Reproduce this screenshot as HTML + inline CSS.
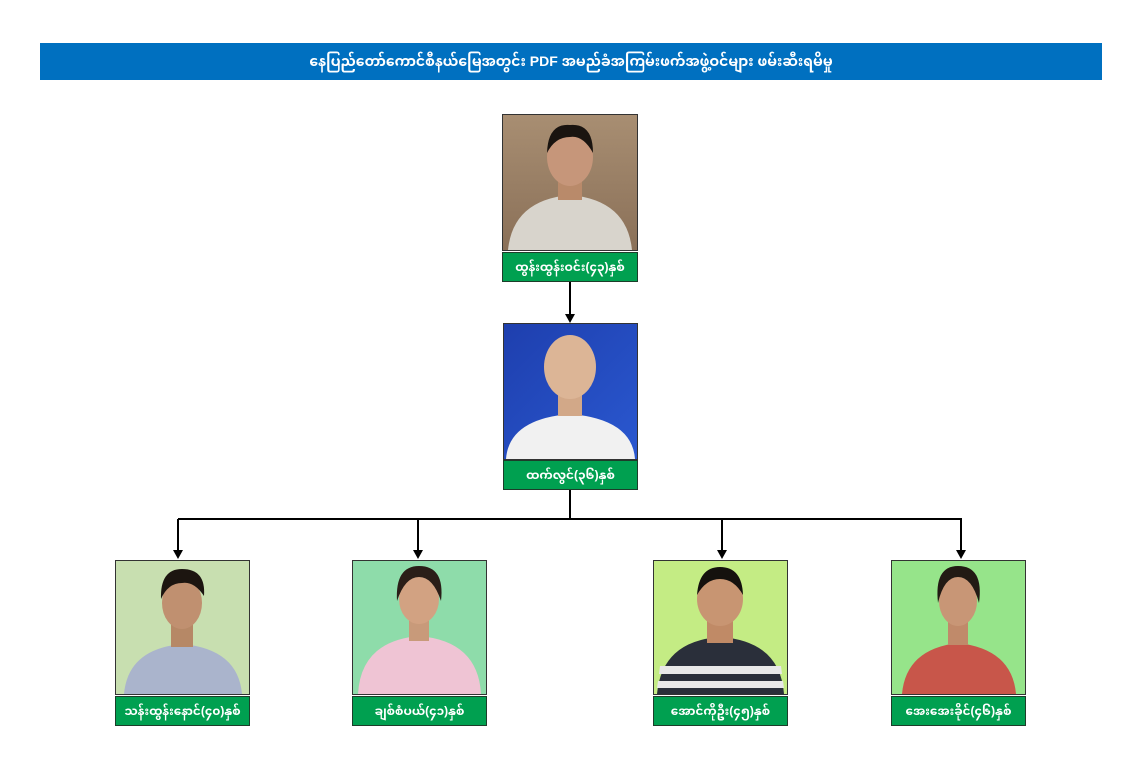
<!DOCTYPE html>
<html><head><meta charset="utf-8"><style>
body{margin:0;width:1131px;height:782px;background:#fff;position:relative;overflow:hidden;font-family:"Liberation Sans","Noto Sans Myanmar","Padauk",sans-serif}
.title{position:absolute;left:40px;top:43px;width:1062px;height:37px;background:#0070c0;color:#fff;font-weight:bold;font-size:14px;line-height:37px;text-align:center}
.ph{position:absolute;border:1px solid #333;overflow:hidden}
.lb{position:absolute;background:#00a050;border:1px solid #1d3d2a;color:#fff;font-weight:bold;font-size:12px;text-align:center;line-height:28px;height:28px}
svg.c{position:absolute;left:0;top:0}
</style></head><body>
<div class="title">နေပြည်တော်ကောင်စီနယ်မြေအတွင်း PDF အမည်ခံအကြမ်းဖက်အဖွဲ့ဝင်များ ဖမ်းဆီးရမိမှု</div>
<svg class="c" width="1131" height="782">
<g stroke="#000" stroke-width="2" fill="none">
<line x1="570" y1="281" x2="570" y2="315"/>
<line x1="570" y1="488" x2="570" y2="519"/>
<line x1="178" y1="519" x2="962" y2="519"/>
<line x1="178" y1="519" x2="178" y2="552"/>
<line x1="418" y1="519" x2="418" y2="552"/>
<line x1="722" y1="519" x2="722" y2="552"/>
<line x1="961" y1="519" x2="961" y2="552"/>
</g>
<g fill="#000">
<polygon points="565,314 575,314 570,323"/>
<polygon points="173,550 183,550 178,559"/>
<polygon points="413,550 423,550 418,559"/>
<polygon points="717,550 727,550 722,559"/>
<polygon points="956,550 966,550 961,559"/>
</g></svg>

<div class="ph" style="left:502px;top:114px;width:134px;height:135px;background:linear-gradient(#a88e72,#8a7058)">
<svg width="134" height="135"><path d="M5,135 Q10,85 67,80 Q124,85 129,135z" fill="#d8d4cc"/><rect x="55" y="60" width="24" height="25" fill="#b98a6a"/><ellipse cx="67" cy="42" rx="23" ry="29" fill="#c6967a"/><path d="M44,38 Q45,8 67,10 Q90,8 90,38 Q80,20 67,22 Q52,22 44,38z" fill="#1a1410"/></svg></div>
<div class="lb" style="left:502px;top:252px;width:134px">ထွန်းထွန်းဝင်း(၄၃)နှစ်</div>

<div class="ph" style="left:503px;top:323px;width:133px;height:135px;background:linear-gradient(135deg,#1e3fae,#2a58d0)">
<svg width="133" height="135"><path d="M2,135 Q5,95 66,90 Q128,95 131,135z" fill="#f1f1f1"/><rect x="54" y="65" width="24" height="27" fill="#d2a888"/><ellipse cx="66" cy="43" rx="26" ry="32" fill="#dcb596"/></svg></div>
<div class="lb" style="left:503px;top:460px;width:133px">ထက်လွင်(၃၆)နှစ်</div>

<div class="ph" style="left:115px;top:560px;width:133px;height:133px;background:#c8dfb0">
<svg width="133" height="133"><path d="M8,133 Q12,88 66,83 Q122,88 126,133z" fill="#aab4cc"/><rect x="55" y="62" width="22" height="24" fill="#b68866"/><ellipse cx="66" cy="42" rx="20" ry="26" fill="#c09070"/><path d="M45,38 Q44,8 66,8 Q90,8 88,35 Q78,20 66,22 Q52,22 45,38z" fill="#1c1510"/></svg></div>
<div class="lb" style="left:115px;top:696px;width:133px">သန်းထွန်းနောင်(၄၀)နှစ်</div>

<div class="ph" style="left:352px;top:560px;width:133px;height:133px;background:#8edcaa">
<svg width="133" height="133"><path d="M5,133 Q8,80 66,75 Q125,80 128,133z" fill="#efc4d4"/><rect x="56" y="58" width="20" height="22" fill="#c89a7a"/><ellipse cx="66" cy="38" rx="20" ry="25" fill="#d2a282"/><path d="M44,40 Q42,5 66,5 Q92,5 88,40 Q80,16 66,16 Q52,16 44,40z" fill="#2a1e18"/></svg></div>
<div class="lb" style="left:352px;top:696px;width:133px">ချစ်စံပယ်(၄၁)နှစ်</div>

<div class="ph" style="left:653px;top:560px;width:133px;height:133px;background:#c4ec84">
<svg width="133" height="133"><path d="M3,133 Q8,80 66,76 Q126,80 130,133z" fill="#2a2f3a"/><path d="M6,105 L127,105 L128,113 L5,113z M4,120 L129,120 L130,127 L3,127z" fill="#e8e8e8"/><rect x="53" y="60" width="26" height="22" fill="#c08a66"/><ellipse cx="66" cy="38" rx="23" ry="27" fill="#c89572"/><path d="M43,34 Q45,6 66,6 Q88,6 89,34 Q80,18 66,18 Q52,18 43,34z" fill="#15110e"/></svg></div>
<div class="lb" style="left:653px;top:696px;width:133px">အောင်ကိုဦး(၄၅)နှစ်</div>

<div class="ph" style="left:891px;top:560px;width:133px;height:133px;background:#96e48a">
<svg width="133" height="133"><path d="M10,133 Q14,88 66,82 Q120,88 124,133z" fill="#c8564a"/><rect x="56" y="60" width="20" height="24" fill="#c08a6a"/><ellipse cx="66" cy="40" rx="19" ry="25" fill="#c89676"/><path d="M46,42 Q42,5 66,5 Q92,5 87,42 Q80,16 66,16 Q52,16 46,42z" fill="#221a14"/></svg></div>
<div class="lb" style="left:891px;top:696px;width:133px">အေးအေးခိုင်(၄၆)နှစ်</div>
</body></html>
